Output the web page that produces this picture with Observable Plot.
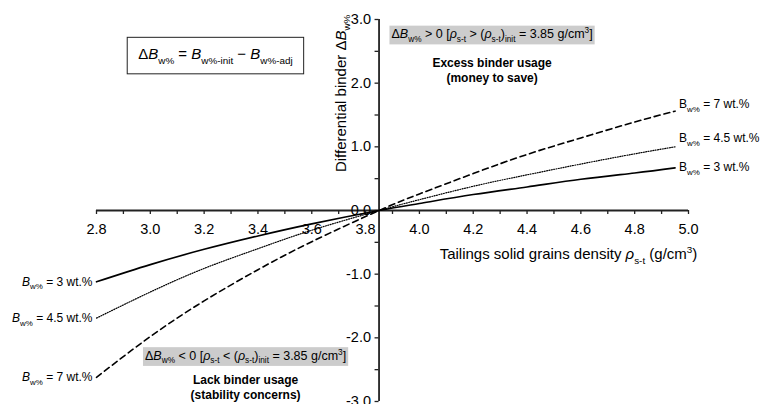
<!DOCTYPE html>
<html><head><meta charset="utf-8">
<script src="https://cdn.jsdelivr.net/npm/d3@7"></script>
<script src="https://cdn.jsdelivr.net/npm/@observablehq/plot@0.6"></script>
<style>body{margin:0;background:#fff} svg{display:block}</style>
</head><body><div id="chart"></div>
<script>
// ---- data ----
const density = [2.8, 3.0, 3.2, 3.4, 3.6, 3.85, 4.0, 4.2, 4.4, 4.6, 4.8, 4.95];
const diffB3  = [-1.12, -0.85, -0.61, -0.40, -0.21, 0, 0.11, 0.25, 0.37, 0.49, 0.59, 0.67];
const diffB45 = [-1.69, -1.28, -0.91, -0.60, -0.31, 0, 0.17, 0.38, 0.56, 0.73, 0.89, 1.00];
const diffB7  = [-2.62, -1.98, -1.42, -0.93, -0.49, 0, 0.26, 0.58, 0.88, 1.14, 1.39, 1.56];
const seriesKeys = ["3", "4.5", "7"];
const leftLabels  = ["*B*_{w%} = 3 wt.%", "*B*_{w%} = 4.5 wt.%", "*B*_{w%} = 7 wt.%"];
const rightLabels = ["B_{w%} = 3 wt.%", "B_{w%} = 4.5 wt.%", "B_{w%} = 7 wt.%"];
const rightLabelY = [0.68, 1.13, 1.67];

const xTickValues = [2.8, 3.0, 3.2, 3.4, 3.6, 3.8, 4.0, 4.2, 4.4, 4.6, 4.8, 5.0];
const xTickLabels = ["2.8", "3.0", "3.2", "3.4", "3.6", "3.8", "4.0", "4.2", "4.4", "4.6", "4.8", "5.0"];
const xMinorValues = [2.9, 3.1, 3.3, 3.5, 3.7, 3.9, 4.1, 4.3, 4.5, 4.7, 4.9];
const yTickValues = [3, 2, 1, 0, -1, -2, -3];
const yTickLabels = ["3.0", "2.0", "1.0", "0.0", "-1.0", "-2.0", "-3.0"];
const yMinorValues = [2.5, 1.5, 0.5, -0.5, -1.5, -2.5];
const initDensity = 3.85;

const xTitle = "Tailings solid grains density *ρ*_{s-t} (g/cm^{3})";
const yTitle = "Differential binder Δ*B*_{w%}";
const formula = "Δ*B*_{w%} = *B*_{w%-init} − *B*_{w%-adj}";
const topNote = "Δ*B*_{w%} > 0 [*ρ*_{s-t} > (*ρ*_{s-t})_{init} = 3.85 g/cm^{3}]";
const bottomNote = "Δ*B*_{w%} < 0 [*ρ*_{s-t} < (*ρ*_{s-t})_{init} = 3.85 g/cm^{3}]";
const topBold = "Excess binder usage\n(money to save)";
const bottomBold = "Lack binder usage\n(stability concerns)";

// ---- build table ----
const seriesVals = {"3": diffB3, "4.5": diffB45, "7": diffB7};
const rows = seriesKeys.flatMap(k => density.map((d, i) => ({density: d, diff: seriesVals[k][i], series: k})));
const startRows = seriesKeys.map((k, i) => ({x: density[0], y: seriesVals[k][0], label: leftLabels[i]}));
const endRows = seriesKeys.map((k, i) => ({x: density[density.length - 1], y: rightLabelY[i], label: rightLabels[i]}));

const W = 769, H = 404, mL = 96, mR = 81, mT = 19, mB = 3;
const xDom = [2.8, 5.0], yDom = [-3, 3];
const pxX = (W - mL - mR) / (xDom[1] - xDom[0]);
const pxY = (H - mT - mB) / (yDom[1] - yDom[0]);
const tickLen = 4;
const font = "Liberation Sans, Arial, Helvetica, sans-serif";

const styles = {
  "3":   {strokeWidth: 1.6},
  "4.5": {strokeWidth: 1.2, strokeDasharray: "1,1.4"},
  "7":   {strokeWidth: 1.6, strokeDasharray: "6,4"}
};

const svg = Plot.plot({
  width: W, height: H,
  marginLeft: mL, marginRight: mR, marginTop: mT, marginBottom: mB,
  x: {domain: xDom, axis: null},
  y: {domain: yDom, axis: null},
  style: {fontFamily: font, color: "black", background: "white"},
  marks: [
    // axes through the origin point (3.85, 0)
    Plot.ruleY([0], {x1: xDom[0], x2: xDom[1], stroke: "#222", strokeWidth: 1.8}),
    Plot.ruleX([initDensity], {y1: yDom[0], y2: yDom[1], stroke: "#222", strokeWidth: 1.8}),
    Plot.ruleX(xTickValues.concat(xMinorValues), {x: d => d, y1: 0, y2: -tickLen / pxY, stroke: "#222", strokeWidth: 1.3}),
    Plot.ruleY(yTickValues.concat(yMinorValues), {y: d => d, x1: initDensity, x2: initDensity - tickLen / pxX, stroke: "#222", strokeWidth: 1.3}),
    Plot.text(xTickValues, {x: d => d, y: 0, text: (d, i) => xTickLabels[i], dy: 19, fontSize: 14.5, fill: "black"}),
    Plot.text(yTickValues, {x: initDensity, y: d => d, text: (d, i) => yTickLabels[i], dx: -8, textAnchor: "end", fontSize: 14.5, fill: "black"}),
    // curves
    ...seriesKeys.map(k => Plot.line(rows.filter(r => r.series === k), {x: "density", y: "diff", stroke: "black", curve: "natural", ...styles[k]})),
    // series labels
    Plot.text(startRows, {x: "x", y: "y", text: "label", dx: -4, textAnchor: "end", fontSize: 12, fill: "black"}),
    Plot.text(endRows, {x: "x", y: "y", text: "label", dx: 4, textAnchor: "start", fontSize: 12, fill: "black"}),
    // titles
    Plot.text([xTitle], {x: 4.554, y: -0.69, text: d => d, fontSize: 15, fill: "black"}),
    Plot.text([yTitle], {x: 3.708, y: 1.84, text: d => d, rotate: -90, fontSize: 15, fill: "black"}),
    // annotations
    Plot.text([formula], {x: 3.242, y: 2.45, text: d => d, fontSize: 15, fill: "black"}),
    Plot.text([topNote], {x: 4.27, y: 2.77, text: d => d, fontSize: 12.5, fill: "black"}),
    Plot.text([bottomNote], {x: 3.354, y: -2.28, text: d => d, fontSize: 12.5, fill: "black"}),
    Plot.text([topBold], {x: 4.27, y: 2.21, text: d => d, fontSize: 12, fontWeight: "bold", lineHeight: 1.25, fill: "black"}),
    Plot.text([bottomBold], {x: 3.354, y: -2.77, text: d => d, fontSize: 12, fontWeight: "bold", lineHeight: 1.25, fill: "black"})
  ]
});
document.getElementById("chart").appendChild(svg);

// ---- rich text (italic, subscripts, superscripts) ----
const NS = "http://www.w3.org/2000/svg";
function richify(el, markup) {
  const fs = parseFloat(getComputedStyle(el).fontSize) || 12;
  const tokens = markup.split(/(\*|_\{[^}]*\}|\^\{[^}]*\})/).filter(t => t !== "");
  while (el.firstChild) el.removeChild(el.firstChild);
  let italic = false, shift = 0;
  for (const t of tokens) {
    if (t === "*") { italic = !italic; continue; }
    let content = t, target = 0, size = null;
    if (t.startsWith("_{")) { content = t.slice(2, -1); target = 0.3 * fs; size = 0.66 * fs; }
    else if (t.startsWith("^{")) { content = t.slice(2, -1); target = -0.4 * fs; size = 0.66 * fs; }
    const ts = document.createElementNS(NS, "tspan");
    ts.textContent = content;
    if (target !== shift) { ts.setAttribute("dy", target - shift); shift = target; }
    if (size) ts.setAttribute("font-size", size);
    if (italic && !size) ts.setAttribute("font-style", "italic");
    el.appendChild(ts);
  }
}
const svgRect = svg.getBoundingClientRect();
function boxFor(el, px, py, fill, stroke) {
  const r = el.getBoundingClientRect();
  const rect = document.createElementNS(NS, "rect");
  rect.setAttribute("x", r.left - svgRect.left - px);
  rect.setAttribute("y", r.top - svgRect.top - py);
  rect.setAttribute("width", r.width + 2 * px);
  rect.setAttribute("height", r.height + 2 * py);
  rect.setAttribute("fill", fill);
  if (stroke) { rect.setAttribute("stroke", stroke); rect.setAttribute("stroke-width", 1); }
  const g = el.closest("g");
  g.parentNode.insertBefore(rect, g);
}
svg.querySelectorAll("text").forEach(el => {
  const raw = el.textContent;
  if (/\*|_\{|\^\{/.test(raw)) {
    richify(el, raw);
    if (raw === topNote || raw === bottomNote) boxFor(el, 2, 0.5, "#cccccc", null);
    if (raw === formula) boxFor(el, 11, 8, "none", "#222");
  }
});
</script>
</body></html>
